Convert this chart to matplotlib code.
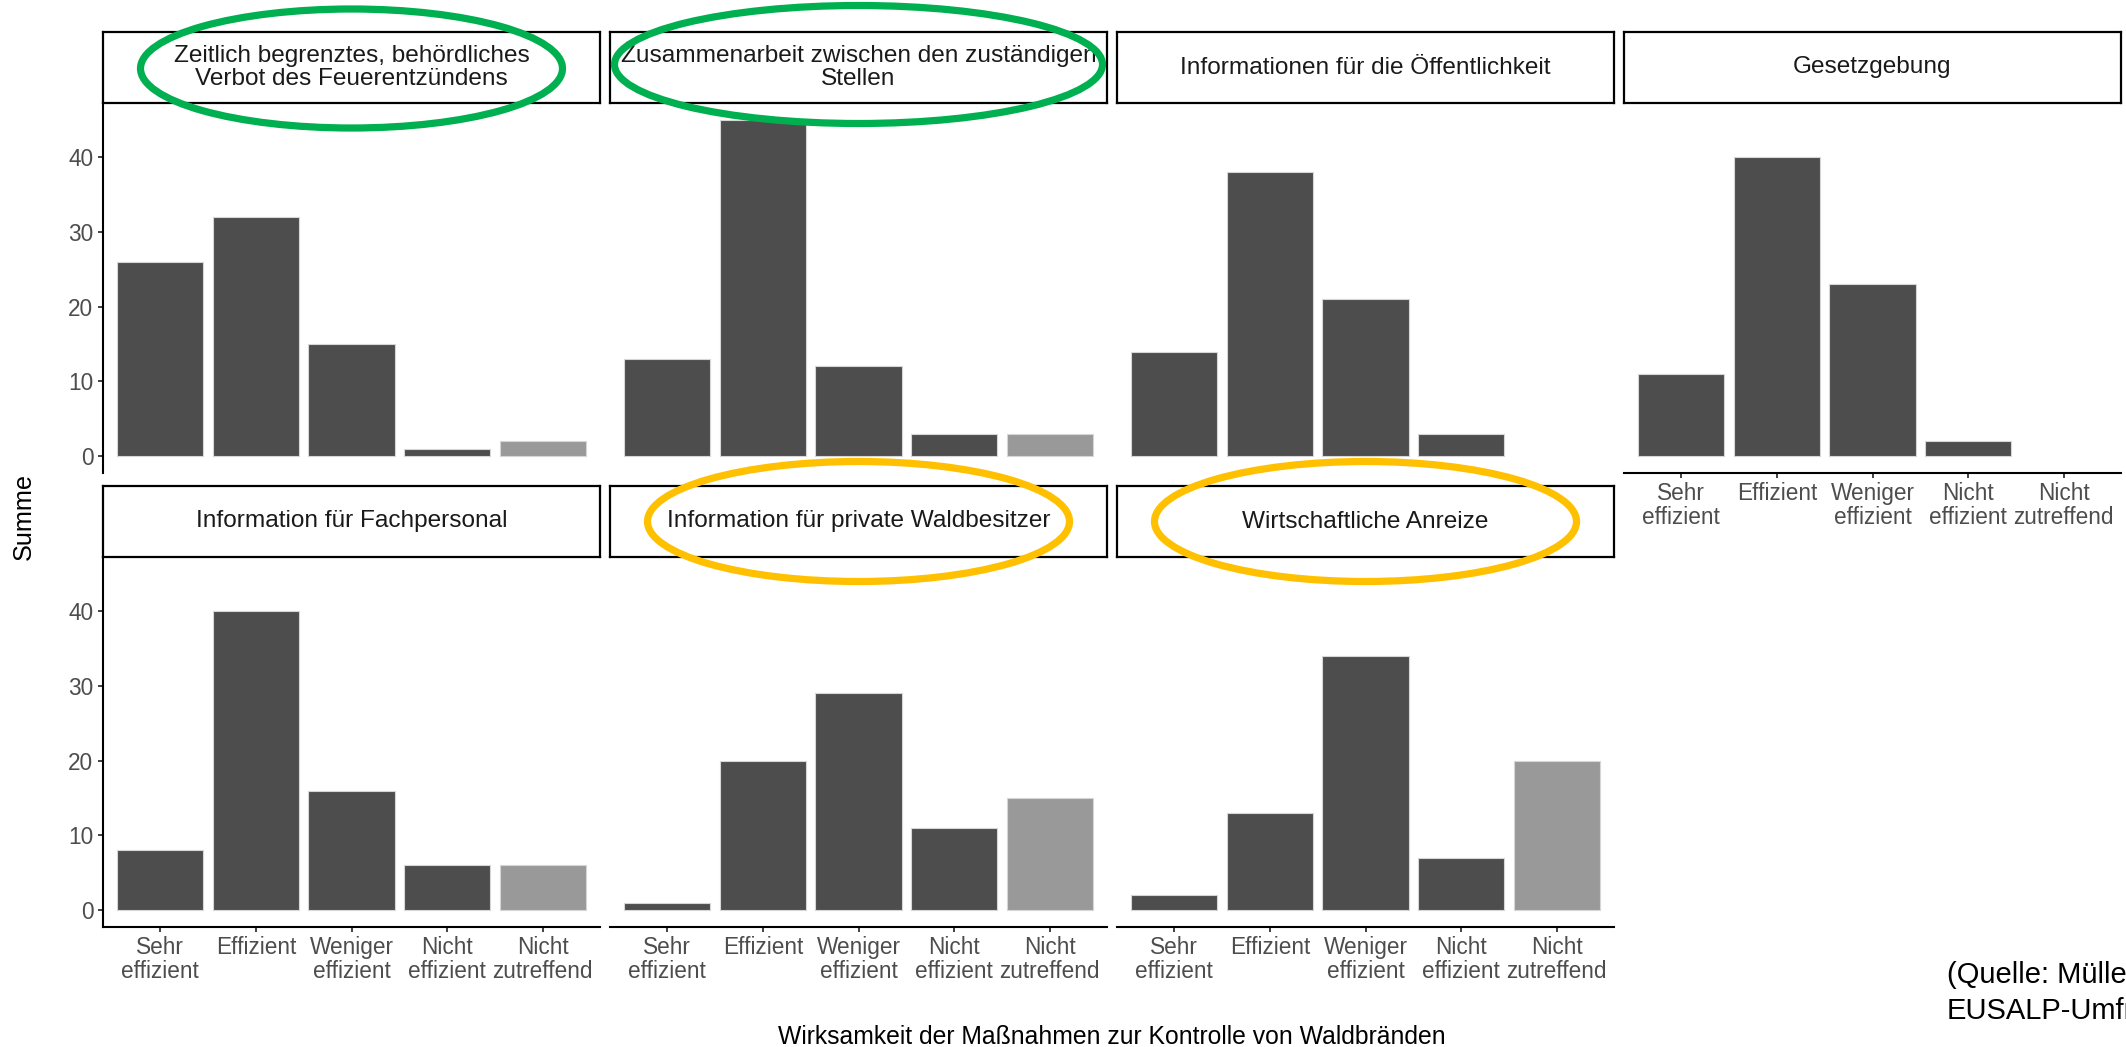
import matplotlib
matplotlib.use("Agg")
import matplotlib.pyplot as plt
from matplotlib.patches import Ellipse

# ---- data -----------------------------------------------------------------
categories = ["Sehr\neffizient", "Effizient", "Weniger\neffizient",
              "Nicht\neffizient", "Nicht\nzutreffend"]

measures = [
    "Zeitlich begrenztes, behördliches\nVerbot des Feuerentzündens",
    "Zusammenarbeit zwischen den zuständigen\nStellen",
    "Informationen für die Öffentlichkeit",
    "Gesetzgebung",
    "Information für Fachpersonal",
    "Information für private Waldbesitzer",
    "Wirtschaftliche Anreize",
]

values_verbot = [26, 32, 15, 1, 2]
values_zusammenarbeit = [13, 45, 12, 3, 3]
values_oeffentlichkeit = [14, 38, 21, 3, None]
values_gesetzgebung = [11, 40, 23, 2, None]
values_fachpersonal = [8, 40, 16, 6, 6]
values_waldbesitzer = [1, 20, 29, 11, 15]
values_anreize = [2, 13, 34, 7, 20]

series = [values_verbot, values_zusammenarbeit, values_oeffentlichkeit,
          values_gesetzgebung, values_fachpersonal, values_waldbesitzer,
          values_anreize]

y_ticks = [0, 10, 20, 30, 40]

# ---- style ----------------------------------------------------------------
plt.rcParams["font.family"] = ["Liberation Sans", "DejaVu Sans"]
DARK = "#4D4D4D"
LIGHT = "#999999"
bar_colors = [DARK, DARK, DARK, DARK, LIGHT]

W, H = 2126, 1047
fig = plt.figure(figsize=(W / 100, H / 100), dpi=100)

col_left = [103, 610, 1117, 1624]
row_top = [103, 557]
panel_w, panel_h, strip_h = 497, 370, 71

strip_axes = []
for i, (title, vals) in enumerate(zip(measures, series)):
    r, c = divmod(i, 4)
    x0, top = col_left[c], row_top[r]
    ax = fig.add_axes([x0 / W, 1 - (top + panel_h) / H, panel_w / W, panel_h / H])

    xs = [k + 1 for k, v in enumerate(vals) if v is not None]
    hs = [v for v in vals if v is not None]
    cs = [bar_colors[k] for k, v in enumerate(vals) if v is not None]
    ax.bar(xs, hs, width=0.9, color=cs, edgecolor="#d6d6d6", linewidth=0.8)

    ax.set_xlim(0.4, 5.6)
    ax.set_ylim(-2.25, 47.25)
    ax.set_xticks(range(1, 6))
    ax.set_xticklabels(categories, linespacing=1.1)
    ax.set_yticks(y_ticks)

    for s in ax.spines.values():
        s.set_visible(False)
        s.set_linewidth(1.5)
        s.set_color("black")

    show_x = (r == 1) or (r == 0 and c == 3)
    show_y = (c == 0)
    ax.spines["bottom"].set_visible(show_x)
    ax.spines["left"].set_visible(show_y)
    ax.tick_params(axis="x", bottom=show_x, labelbottom=show_x, length=3.6,
                   width=1.3, color="#333333", pad=2.6, labelsize=16.3,
                   labelcolor=DARK)
    ax.tick_params(axis="y", left=show_y, labelleft=show_y, length=3.6,
                   width=1.3, color="#333333", pad=3.4, labelsize=16.3,
                   labelcolor=DARK)

    # facet strip
    sax = fig.add_axes([x0 / W, 1 - top / H, panel_w / W, strip_h / H])
    sax.set_xticks([])
    sax.set_yticks([])
    for s in sax.spines.values():
        s.set_linewidth(1.6)
        s.set_color("black")
    sax.text(0.5, 0.5, title, ha="center", va="center", fontsize=17.6,
             color="#1A1A1A", linespacing=1.1, transform=sax.transAxes)
    strip_axes.append(sax)

# axis titles
fig.text(24 / W, 1 - 516 / H, "Summe", rotation=90, ha="center", va="center",
         fontsize=18.2, color="black")
fig.text(1112 / W, 1 - 1044 / H,
         "Wirksamkeit der Maßnahmen zur Kontrolle von Waldbränden",
         ha="center", va="baseline", fontsize=17.8, color="black")

# source note (runs off the right edge)
fig.text(1947 / W, 1 - 975 / H, "(Quelle: Müller", ha="left", va="center",
         fontsize=21, color="black")
fig.text(1947 / W, 1 - 1011 / H, "EUSALP-Umfrage", ha="left", va="center",
         fontsize=21, color="black")

# highlight rings around selected facet titles
GREEN = "#00B050"
ORANGE = "#FFC000"
rings = [(0, GREEN, 422, 119, 1), (1, GREEN, 488, 118, -3),
         (5, ORANGE, 422, 120, 0), (6, ORANGE, 422, 120, 0)]
for idx, col, w, h, dy in rings:
    bb = strip_axes[idx].get_position()
    cx = (bb.x0 + bb.x1) / 2
    cy = (bb.y0 + bb.y1) / 2 - dy / H
    fig.add_artist(Ellipse((cx, cy), w / W, h / H, transform=fig.transFigure,
                           fill=False, edgecolor=col, linewidth=5.2, zorder=10))

fig.savefig("out.png", dpi=100)
